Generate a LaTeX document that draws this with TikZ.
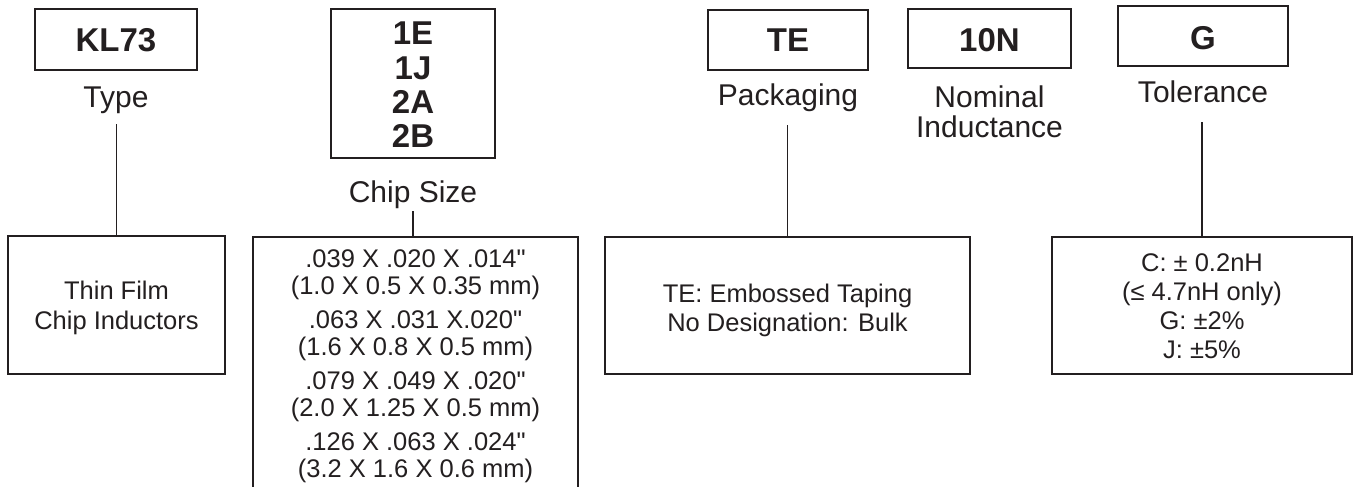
\documentclass[tikz,border=0pt]{standalone}
\usepackage{fontspec}
\setmainfont{Liberation Sans}[Ligatures=TeXOff]
\definecolor{ink}{HTML}{231F20}
\begin{document}
\begin{tikzpicture}[x=1pt,y=-1pt,
  box/.style={draw=ink, line width=1.7pt, inner sep=0pt},
  code/.style={font=\bfseries\fontsize{33}{36}\selectfont, text=ink, anchor=base, inner sep=0pt},
  lab/.style={font=\fontsize{30}{33}\selectfont, text=ink, anchor=base, inner sep=0pt},
  body/.style={font=\fontsize{25.5}{29}\selectfont, text=ink, anchor=base, inner sep=0pt},
  link/.style={draw=ink, line width=1.7pt}]
\useasboundingbox (0,0) rectangle (1354,487);
\clip (0,0) rectangle (1354,487);
\fill[white] (0,0) rectangle (1354,487);
% top code boxes
\node[box, minimum width=162pt, minimum height=61pt] (kbox) at (116,39.5) {};
\node[code] (kt) at (116,52) {KL73};
\node[box, minimum width=164pt, minimum height=149pt] (cbox) at (413,83.5) {};
\node[code] (c1e) at (413,45) {1E};
\node[code] (c1j) at (413,79) {1J};
\node[code] (c2a) at (413,113) {2A};
\node[code] (c2b) at (413,147) {2B};
\node[box, minimum width=160pt, minimum height=60pt] (tbox) at (788,40) {};
\node[code] (tt) at (788,52) {TE};
\node[box, minimum width=163pt, minimum height=59pt] (nbox) at (989.5,38.5) {};
\node[code] (nt) at (989.5,52) {10N};
\node[box, minimum width=170pt, minimum height=60pt] (gbox) at (1203,36) {};
\node[code] (gt) at (1203,49) {G};
% labels
\node[lab] (ltype) at (116,107) {Type};
\node[lab] (lchip) at (413,202) {Chip Size};
\node[lab] (lpack) at (788,105) {Packaging};
\node[lab] (lnom1) at (989.5,107) {Nominal};
\node[lab] (lnom2) at (989.5,137) {Inductance};
\node[lab] (ltol) at (1203,102) {Tolerance};
% bottom boxes
\node[box, minimum width=217pt, minimum height=138pt] (tfbox) at (116.5,305) {};
\node[body] (tf1) at (116.5,299) {Thin Film};
\node[body] (tf2) at (116.5,329) {Chip Inductors};
\node[box, minimum width=325pt, minimum height=290pt] (csbox) at (415.5,382) {};
\node[body] (cs1) at (415.5,267) {.039 X .020 X .014"};
\node[body] (cs2) at (415.5,294) {(1.0 X 0.5 X 0.35 mm)};
\node[body] (cs3) at (415.5,328) {.063 X .031 X.020"};
\node[body] (cs4) at (415.5,355) {(1.6 X 0.8 X 0.5 mm)};
\node[body] (cs5) at (415.5,389) {.079 X .049 X .020"};
\node[body] (cs6) at (415.5,416) {(2.0 X 1.25 X 0.5 mm)};
\node[body] (cs7) at (415.5,450) {.126 X .063 X .024"};
\node[body] (cs8) at (415.5,477) {(3.2 X 1.6 X 0.6 mm)};
\node[box, minimum width=365pt, minimum height=137pt] (pbox) at (787.5,305.5) {};
\node[body] (p1) at (787.5,302) {TE: Embossed Taping};
\node[body] (p2) at (787.5,331) {No Designation: Bulk};
\node[box, minimum width=300pt, minimum height=137pt] (tolbox) at (1202,305.5) {};
\node[body] (to1) at (1202,271) {C: ± 0.2nH};
\node[body] (to2) at (1202,300) {(≤ 4.7nH only)};
\node[body] (to3) at (1202,329) {G: ±2\%};
\node[body] (to4) at (1202,358) {J: ±5\%};
% connectors
\coordinate (a0) at (116.5,124);
\coordinate (b0) at (413,211);
\coordinate (d0) at (787.5,125);
\coordinate (e0) at (1202,122);
\draw[link] (a0) -- (tfbox.north);
\draw[link] (b0) -- (b0 |- csbox.north);
\draw[link] (d0) -- (pbox.north);
\draw[link] (e0) -- (tolbox.north);
\end{tikzpicture}
\end{document}
